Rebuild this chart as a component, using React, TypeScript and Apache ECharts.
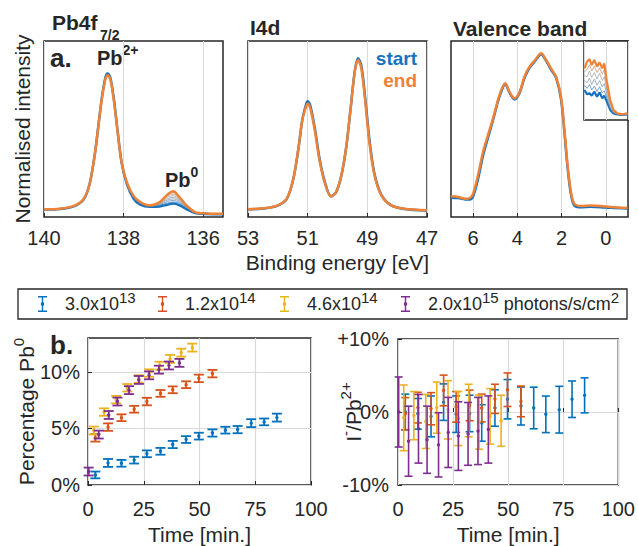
import React, { useEffect, useRef } from 'react';
import * as echarts from 'echarts';

const FONT = '"Liberation Sans", Arial, Helvetica, sans-serif';
const TXT = '#262626';
const GRIDC = '#d9d9d9';
const BLUE_TOP = '#1772BE';
const ORANGE_TOP = '#EE8236';
const C_BLUE = '#0072BD';
const C_RED = '#D95319';
const C_YEL = '#EDB120';
const C_PUR = '#7E2F8E';

// ---------- Panel a: Pb4f7/2 ----------
const pbTicks = [136, 138, 140];
const pbEnergy = [140, 139.6, 139.25, 139.0, 138.85, 138.72, 138.63, 138.55, 138.46, 138.4, 138.33, 138.24, 138.15, 138.05, 137.92, 137.75, 137.58, 137.33, 137.1, 136.9, 136.75, 136.6, 136.42, 136.2, 135.9, 135.5];
const pbStart = [0.042, 0.045, 0.06, 0.1, 0.19, 0.36, 0.525, 0.67, 0.79, 0.815, 0.79, 0.665, 0.49, 0.31, 0.19, 0.105, 0.07, 0.058, 0.06, 0.07, 0.076, 0.067, 0.045, 0.022, 0.017, 0.015];
const pbEnd = [0.044, 0.047, 0.063, 0.104, 0.19, 0.36, 0.52, 0.665, 0.78, 0.806, 0.78, 0.655, 0.484, 0.313, 0.2, 0.12, 0.085, 0.066, 0.083, 0.127, 0.146, 0.114, 0.066, 0.028, 0.02, 0.018];
const pb0Energy = [137.3, 137.1, 136.9, 136.75, 136.6, 136.4, 136.2];
const pb0Mid = [
  [0.063, 0.066, 0.079, 0.085, 0.077, 0.051, 0.026],
  [0.063, 0.069, 0.088, 0.094, 0.084, 0.054, 0.026],
  [0.064, 0.072, 0.096, 0.103, 0.091, 0.057, 0.027],
  [0.064, 0.075, 0.104, 0.112, 0.097, 0.059, 0.027],
  [0.065, 0.078, 0.112, 0.121, 0.103, 0.061, 0.027],
  [0.065, 0.080, 0.120, 0.130, 0.108, 0.063, 0.028],
  [0.066, 0.083, 0.127, 0.138, 0.112, 0.065, 0.028],
];
const midColors = ['#3d7fc0', '#5f8ab8', '#7e95ad', '#969ca3', '#a59e98', '#b69a86', '#c99674'];

// ---------- Panel I4d ----------
const i4dTicks = [47, 49, 51, 53];
const i4dEnergy = [53, 52.4, 52.0, 51.7, 51.48, 51.31, 51.18, 51.05, 51.0, 50.9, 50.75, 50.6, 50.42, 50.22, 50.05, 49.87, 49.7, 49.56, 49.42, 49.31, 49.2, 49.07, 48.92, 48.76, 48.53, 48.2, 47.76, 47];
const i4dStart = [0.042, 0.05, 0.065, 0.103, 0.216, 0.388, 0.552, 0.642, 0.657, 0.625, 0.495, 0.33, 0.197, 0.118, 0.14, 0.235, 0.405, 0.617, 0.83, 0.902, 0.86, 0.675, 0.425, 0.245, 0.126, 0.066, 0.046, 0.037];
const i4dEnd = [0.044, 0.051, 0.066, 0.104, 0.218, 0.389, 0.55, 0.63, 0.645, 0.61, 0.48, 0.32, 0.19, 0.116, 0.14, 0.237, 0.408, 0.617, 0.825, 0.892, 0.844, 0.655, 0.408, 0.237, 0.123, 0.066, 0.047, 0.038];

// ---------- Panel Valence band ----------
const vbTicks = [0, 2, 4, 6];
const vbEnergy = [7.0, 6.67, 6.37, 6.15, 6.0, 5.78, 5.55, 5.33, 5.1, 4.88, 4.7, 4.55, 4.35, 4.13, 3.9, 3.68, 3.45, 3.2, 2.93, 2.7, 2.48, 2.25, 2.03, 1.88, 1.73, 1.58, 1.43, 1.13, 0.68, 0.23, -0.22, -0.97];
const vbStart = [0.11, 0.108, 0.1, 0.1, 0.118, 0.215, 0.35, 0.45, 0.55, 0.655, 0.722, 0.755, 0.705, 0.668, 0.705, 0.79, 0.848, 0.886, 0.925, 0.888, 0.838, 0.79, 0.672, 0.49, 0.28, 0.13, 0.066, 0.055, 0.058, 0.056, 0.052, 0.048];
const vbEnd = [0.118, 0.114, 0.104, 0.108, 0.133, 0.237, 0.37, 0.465, 0.56, 0.664, 0.73, 0.76, 0.71, 0.674, 0.71, 0.797, 0.854, 0.892, 0.93, 0.892, 0.844, 0.797, 0.683, 0.503, 0.294, 0.142, 0.076, 0.063, 0.066, 0.063, 0.057, 0.051];

// inset (valence band maximum)
const insetEnergy = [0.98, 0.86, 0.75, 0.65, 0.53, 0.41, 0.29, 0.17, 0.08, -0.04, -0.19, -0.34, -0.52, -0.75, -0.97];
const insetStart = [0.38, 0.325, 0.338, 0.308, 0.359, 0.295, 0.35, 0.274, 0.308, 0.232, 0.127, 0.084, 0.072, 0.063, 0.072];
const insetMid = [
  [0.44, 0.40, 0.45, 0.38, 0.43, 0.36, 0.42, 0.34, 0.37, 0.28, 0.15, 0.09, 0.075, 0.066, 0.074],
  [0.50, 0.47, 0.53, 0.45, 0.52, 0.44, 0.50, 0.42, 0.46, 0.33, 0.17, 0.10, 0.078, 0.068, 0.076],
  [0.56, 0.55, 0.62, 0.54, 0.60, 0.52, 0.59, 0.50, 0.55, 0.38, 0.20, 0.11, 0.08, 0.07, 0.08],
  [0.61, 0.64, 0.70, 0.62, 0.68, 0.60, 0.66, 0.58, 0.64, 0.43, 0.22, 0.12, 0.082, 0.071, 0.082],
];
const insetMidColors = ['#5a8cc0', '#8d9cae', '#a3a3a3', '#c59a7c'];
const insetEnd = [0.654, 0.738, 0.772, 0.696, 0.76, 0.675, 0.73, 0.654, 0.717, 0.485, 0.253, 0.127, 0.084, 0.072, 0.084];

// ---------- Panel b ----------
const fluxNames = ['3.0x10^13', '1.2x10^14', '4.6x10^14', '2.0x10^15 photons/s/cm^2'];
const fluxColors = [C_BLUE, C_RED, C_YEL, C_PUR];
const pctTicks = [0, 5, 10];

const tBlue = [3.3, 9.0, 15.0, 20.7, 26.4, 32.5, 38.0, 44.0, 49.7, 55.8, 61.6, 67.1, 73.2, 79.0, 84.7];
const tRed = [3.3, 9.0, 15.0, 20.7, 26.4, 32.5, 38.0, 44.0, 49.7, 55.8];
const tYellow = [2.6, 7.2, 12.6, 17.6, 22.7, 27.4, 32.1, 36.8, 41.8, 46.8];
const tPurple = [0.3, 4.8, 9.3, 13.2, 18.4, 22.8, 27.4, 31.8, 36.3, 41.0];

const pctBlue = [0.89, 1.95, 1.92, 2.2, 2.76, 2.98, 3.58, 4.02, 4.32, 4.6, 4.85, 4.9, 5.47, 5.58, 5.96];
const pctBlueErr = [0.3, 0.35, 0.3, 0.3, 0.3, 0.3, 0.32, 0.3, 0.3, 0.32, 0.3, 0.32, 0.35, 0.3, 0.35];
const pctRed = [4.17, 5.12, 5.95, 6.7, 7.38, 8.1, 8.42, 8.87, 9.43, 9.85];
const pctRedErr = [0.33, 0.33, 0.3, 0.3, 0.33, 0.3, 0.3, 0.3, 0.33, 0.33];
const pctYellow = [4.82, 6.45, 7.55, 8.6, 9.38, 9.9, 10.55, 11.15, 11.7, 12.15];
const pctYellowErr = [0.35, 0.33, 0.33, 0.33, 0.33, 0.33, 0.35, 0.35, 0.35, 0.35];
const pctPurple = [1.19, 4.46, 6.19, 7.38, 8.39, 9.29, 9.7, 10.2, 10.57, 10.8];
const pctPurpleErr = [0.35, 0.35, 0.35, 0.35, 0.35, 0.35, 0.35, 0.35, 0.35, 0.35];

const ratioBlue = [0, -0.25, -0.6, 1.35, -0.3, -0.2, -1.5, 0.55, 1.75, 0.82, 0.55, -0.32, 0.32, 1.75, 2.28];
const ratioBlueErr = [2.45, 2.1, 2.8, 2.5, 2.5, 2.5, 2.5, 2.5, 2.7, 2.6, 2.85, 2.5, 3.2, 2.5, 2.4];
const ratioRed = [-0.23, 0.6, 0.45, 2.95, 0.7, 0.9, 0.55, 1.8, 3.05, 1.45];
const ratioRedErr = [2.2, 2.1, 2.2, 2.1, 2.1, 2.1, 1.9, 2.0, 2.3, 2.1];
const ratioYellow = [-0.8, -0.5, -1.3, 0.6, 0.3, -0.9, 0.2, -1.4, -0.6, -1.2];
const ratioYellowErr = [4.5, 3.3, 3.7, 3.5, 4.0, 3.7, 3.6, 3.7, 3.8, 3.5];
const ratioPurple = [0, -4.0, -2.3, -3.8, -4.5, -2.8, -3.3, -3.0, -2.6, -2.4];
const ratioPurpleErr = [4.8, 4.8, 4.7, 4.6, 4.4, 4.8, 4.7, 4.3, 4.6, 4.6];

const legendRich: Record<string, string> = {
  '3.0x10^13': '{g| }{m|3.0x10}{s|13}',
  '1.2x10^14': '{g| }{m|1.2x10}{s|14}',
  '4.6x10^14': '{g| }{m|4.6x10}{s|14}',
  '2.0x10^15 photons/s/cm^2': '{g| }{m|2.0x10}{s|15}{m| photons/s/cm}{s|2}',
};
const legendLefts = [38, 158, 280, 401];

const errIcon = 'path://M0,0h9v1.6h-9z M3.8,0h1.4v16h-1.4z M0,14.4h9v1.6h-9z M2.9,6.6h3.2v2.8h-3.2z';

function zip(xs: number[], ys: number[]) {
  return xs.map((x, i) => [x, ys[i]]);
}
function zip3(xs: number[], ys: number[], es: number[]) {
  return xs.map((x, i) => [x, ys[i], es[i]]);
}

function lineSeries(idx: number, xs: number[], ys: number[], color: string, width: number, z: number) {
  return {
    type: 'line',
    xAxisIndex: idx,
    yAxisIndex: idx,
    data: zip(xs, ys),
    showSymbol: false,
    symbol: 'none',
    smooth: 0.3,
    lineStyle: { color, width },
    itemStyle: { color },
    z,
    silent: true,
  };
}

function errRender(capHalf: number, lw: number) {
  return (params: any, api: any) => {
    const x = api.value(0);
    const c = api.value(1);
    const e = api.value(2);
    const pt = api.coord([x, c + e]);
    const pb = api.coord([x, c - e]);
    const pm = api.coord([x, c]);
    const color = api.visual('color');
    const st = { stroke: color, lineWidth: lw };
    return {
      type: 'group',
      children: [
        { type: 'line', shape: { x1: pt[0], y1: pt[1], x2: pb[0], y2: pb[1] }, style: st },
        { type: 'line', shape: { x1: pt[0] - capHalf, y1: pt[1], x2: pt[0] + capHalf, y2: pt[1] }, style: st },
        { type: 'line', shape: { x1: pb[0] - capHalf, y1: pb[1], x2: pb[0] + capHalf, y2: pb[1] }, style: st },
        { type: 'circle', shape: { cx: pm[0], cy: pm[1], r: 1.7 }, style: { fill: color } },
      ],
    };
  };
}

function errSeries(name: string, idx: number, data: number[][], color: string, capHalf: number, lw: number, z: number) {
  return {
    type: 'custom',
    name,
    xAxisIndex: idx,
    yAxisIndex: idx,
    data,
    encode: { x: 0, y: 1 },
    itemStyle: { color },
    renderItem: errRender(capHalf, lw),
    z,
    silent: true,
  };
}

const tickLabel = { fontSize: 20, color: TXT, fontFamily: FONT };

function topXAxis(idx: number, min: number, max: number, ticks: number[], extra: any = {}) {
  return {
    gridIndex: idx,
    type: 'value',
    min,
    max,
    inverse: true,
    axisLine: { show: false },
    axisTick: { show: true, inside: true, length: 4, customValues: ticks, lineStyle: { color: TXT, width: 1 } },
    axisLabel: { ...tickLabel, margin: 11, customValues: ticks },
    splitLine: { show: true, lineStyle: { color: GRIDC, width: 1 } },
    ...extra,
  };
}

function hiddenY(idx: number, extra: any = {}) {
  return {
    gridIndex: idx,
    type: 'value',
    min: 0,
    max: 1,
    axisLine: { show: false },
    axisTick: { show: false },
    axisLabel: { show: false },
    splitLine: { show: false },
    ...extra,
  };
}

const supRich = {
  n: { fontSize: 21, color: TXT, fontFamily: FONT, lineHeight: 30 },
  s: { fontSize: 15, color: TXT, fontFamily: FONT, lineHeight: 14, verticalAlign: 'top' },
};

export default function App() {
  const ref = useRef<HTMLDivElement>(null);

  useEffect(() => {
    if (!ref.current) return;
    const chart = echarts.init(ref.current, null, { renderer: 'svg' });

    const gridBox = { show: true, borderColor: TXT, borderWidth: 1.5, backgroundColor: 'transparent' };

    const series: any[] = [];
    series.push(lineSeries(0, pbEnergy, pbStart, BLUE_TOP, 2.5, 2));
    pb0Mid.forEach((ys, i) => series.push(lineSeries(0, pb0Energy, ys, midColors[i], 0.8, 3)));
    series.push(lineSeries(0, pbEnergy, pbEnd, ORANGE_TOP, 2.5, 4));
    series.push(lineSeries(1, i4dEnergy, i4dStart, BLUE_TOP, 2.5, 2));
    series.push(lineSeries(1, i4dEnergy, i4dEnd, ORANGE_TOP, 2.5, 4));
    series.push(lineSeries(2, vbEnergy, vbStart, BLUE_TOP, 2.5, 2));
    series.push(lineSeries(2, vbEnergy, vbEnd, ORANGE_TOP, 2.5, 4));
    series.push({ ...lineSeries(3, insetEnergy, insetStart, BLUE_TOP, 2.2, 12), smooth: false });
    insetMid.forEach((ys, i) => series.push({ ...lineSeries(3, insetEnergy, ys, insetMidColors[i], 0.8, 13), smooth: false }));
    series.push({ ...lineSeries(3, insetEnergy, insetEnd, ORANGE_TOP, 2.2, 14), smooth: false });

    series.push(errSeries(fluxNames[0], 4, zip3(tBlue, pctBlue, pctBlueErr), fluxColors[0], 5, 1.8, 2));
    series.push(errSeries(fluxNames[1], 4, zip3(tRed, pctRed, pctRedErr), fluxColors[1], 5, 1.8, 3));
    series.push(errSeries(fluxNames[2], 4, zip3(tYellow, pctYellow, pctYellowErr), fluxColors[2], 5, 1.8, 4));
    series.push(errSeries(fluxNames[3], 4, zip3(tPurple, pctPurple, pctPurpleErr), fluxColors[3], 5, 1.8, 5));
    series.push(errSeries(fluxNames[0], 5, zip3(tBlue, ratioBlue, ratioBlueErr), fluxColors[0], 4, 1.6, 2));
    series.push(errSeries(fluxNames[1], 5, zip3(tRed, ratioRed, ratioRedErr), fluxColors[1], 4, 1.6, 3));
    series.push(errSeries(fluxNames[2], 5, zip3(tYellow, ratioYellow, ratioYellowErr), fluxColors[2], 4, 1.6, 4));
    series.push(errSeries(fluxNames[3], 5, zip3(tPurple, ratioPurple, ratioPurpleErr), fluxColors[3], 4, 1.6, 5));

    const boldText = (text: string, x: number, y: number, size: number, color = TXT, align = 'left') => ({
      type: 'text',
      x,
      y,
      silent: true,
      style: {
        text,
        fill: color,
        fontSize: size,
        fontWeight: 'bold',
        fontFamily: FONT,
        textAlign: align,
        textVerticalAlign: 'middle',
      },
    });

    const supText = (base: string, sup: string, x: number, y: number) => ({
      type: 'text',
      x,
      y,
      silent: true,
      style: {
        text: `{b|${base}}{s|${sup}}`,
        fill: TXT,
        fontFamily: FONT,
        textVerticalAlign: 'middle',
        rich: {
          b: { fontSize: 20, fontWeight: 'bold', fontFamily: FONT, fill: TXT, color: TXT, lineHeight: 30 },
          s: { fontSize: 14, fontWeight: 'bold', fontFamily: FONT, fill: TXT, color: TXT, lineHeight: 12, verticalAlign: 'top' },
        },
      },
    });

    const timeAxis = (idx: number) => ({
      gridIndex: idx,
      type: 'value',
      min: 0,
      max: 100,
      interval: 25,
      axisLine: { show: false },
      axisTick: { show: true, inside: true, length: 4, lineStyle: { color: TXT } },
      axisLabel: { ...tickLabel, margin: 14 },
      splitLine: { show: true, lineStyle: { color: GRIDC, width: 1.2 } },
      name: 'Time [min.]',
      nameLocation: 'middle',
      nameGap: 39,
      nameMoveOverlap: false,
      nameTextStyle: { fontSize: 21, color: TXT, fontFamily: FONT },
    });

    const option: any = {
      animation: false,
      textStyle: { fontFamily: FONT },
      grid: [
        { left: 44, top: 41, width: 179, height: 176, ...gridBox },
        { left: 248, top: 41, width: 179, height: 176, ...gridBox },
        { left: 451, top: 41, width: 177, height: 176, ...gridBox },
        { left: 584, top: 41, width: 44, height: 79, ...gridBox, backgroundColor: '#ffffff', z: 10 },
        { left: 88, top: 338, width: 223, height: 147, ...gridBox },
        { left: 398, top: 339, width: 222, height: 146, ...gridBox },
      ],
      xAxis: [
        topXAxis(0, 135.5, 140, pbTicks),
        topXAxis(1, 47, 53, i4dTicks, {
          name: 'Binding energy [eV]',
          nameLocation: 'middle',
          nameGap: 35,
          nameMoveOverlap: false,
          nameTextStyle: { fontSize: 21, color: TXT, fontFamily: FONT },
        }),
        topXAxis(2, -1, 7, vbTicks),
        {
          gridIndex: 3,
          type: 'value',
          min: -1,
          max: 1,
          interval: 1,
          inverse: true,
          z: 10,
          axisLine: { show: false },
          axisTick: { show: false },
          axisLabel: { show: false },
          splitLine: { show: true, lineStyle: { color: GRIDC, width: 1 } },
        },
        timeAxis(4),
        timeAxis(5),
      ],
      yAxis: [
        hiddenY(0, {
          name: 'Normalised intensity',
          nameLocation: 'middle',
          nameRotate: 90,
          nameGap: 11,
          nameMoveOverlap: false,
          nameTextStyle: { fontSize: 21, color: TXT, fontFamily: FONT },
        }),
        hiddenY(1),
        hiddenY(2),
        hiddenY(3, { z: 10 }),
        {
          gridIndex: 4,
          type: 'value',
          min: 0,
          max: 13,
          axisLine: { show: false },
          axisTick: { show: true, inside: true, length: 4, customValues: pctTicks, lineStyle: { color: TXT } },
          axisLabel: { ...tickLabel, margin: 8, customValues: pctTicks, formatter: (v: number) => `${v}%` },
          splitLine: { show: true, lineStyle: { color: GRIDC, width: 1.2 } },
          name: '{n|Percentage Pb}{s|0}',
          nameLocation: 'middle',
          nameRotate: 90,
          nameGap: 47,
          nameMoveOverlap: false,
          nameTextStyle: { fontSize: 21, color: TXT, fontFamily: FONT, rich: supRich },
        },
        {
          gridIndex: 5,
          type: 'value',
          min: -10,
          max: 10,
          interval: 10,
          axisLine: { show: false },
          axisTick: { show: true, inside: true, length: 4, lineStyle: { color: TXT } },
          axisLabel: { ...tickLabel, margin: 9, formatter: (v: number) => (v > 0 ? `+${v}%` : `${v}%`) },
          splitLine: { show: true, lineStyle: { color: GRIDC, width: 1.2 } },
          name: '{n|I}{s|-}{n|/Pb}{s|2+}',
          nameLocation: 'middle',
          nameRotate: 90,
          nameGap: 30,
          nameMoveOverlap: false,
          nameTextStyle: { fontSize: 21, color: TXT, fontFamily: FONT, rich: supRich },
        },
      ],
      legend: fluxNames.map((n, i) => ({
        left: legendLefts[i],
        top: 290,
        padding: 0,
        itemWidth: 9,
        itemHeight: 16,
        selectedMode: false,
        data: [{ name: n, icon: errIcon }],
        formatter: (name: string) => legendRich[name] || name,
        textStyle: {
          fontSize: 18,
          color: TXT,
          fontFamily: FONT,
          rich: {
            g: { width: 13, fontSize: 18, lineHeight: 28 },
            m: { fontSize: 18, color: TXT, fontFamily: FONT, lineHeight: 28 },
            s: { fontSize: 15, color: TXT, fontFamily: FONT, lineHeight: 15, verticalAlign: 'top' },
          },
        },
      })),
      graphic: [
        {
          type: 'rect',
          silent: true,
          shape: { x: 18, y: 289, width: 609, height: 30 },
          style: { fill: 'none', stroke: TXT, lineWidth: 1.3 },
        },
        boldText('Pb4f', 52, 22, 21),
        boldText('7/2', 100, 35, 14),
        boldText('a.', 50, 58, 26),
        supText('Pb', '2+', 97, 58),
        supText('Pb', '0', 165, 180),
        boldText('I4d', 250, 27, 21),
        boldText('Valence band', 453, 28, 21),
        boldText('start', 417, 58, 19, BLUE_TOP, 'right'),
        boldText('end', 417, 80, 19, ORANGE_TOP, 'right'),
        boldText('b.', 50, 345, 26),
      ],
      series,
    };

    chart.setOption(option);
    return () => chart.dispose();
  }, []);

  return (
    <div
      ref={ref}
      style={{ position: 'absolute', left: 0, top: 0, width: 638, height: 546, background: '#ffffff' }}
    />
  );
}
